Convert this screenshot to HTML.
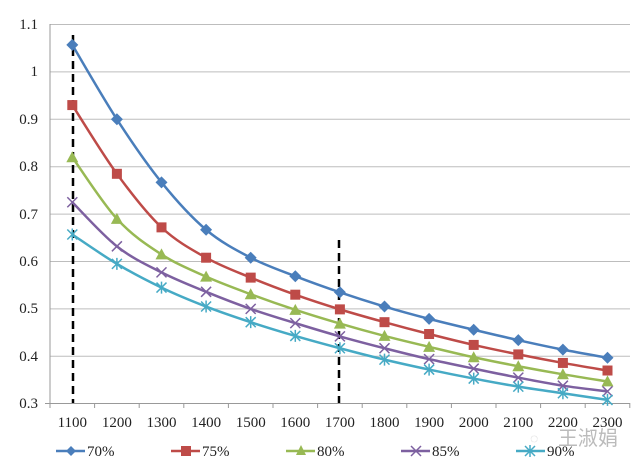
<!DOCTYPE html>
<html><head><meta charset="utf-8"><style>
html,body{margin:0;padding:0;background:#fff;}
svg{display:block;font-family:"Liberation Serif","Noto Serif CJK SC",serif;}
</style></head><body>
<svg id="s" width="640" height="471" viewBox="0 0 640 471" xmlns="http://www.w3.org/2000/svg">
<g stroke="#bdbdbd" stroke-width="1">
<line x1="50" y1="24.5" x2="630" y2="24.5"/>
<line x1="50" y1="71.9" x2="630" y2="71.9"/>
<line x1="50" y1="119.3" x2="630" y2="119.3"/>
<line x1="50" y1="166.7" x2="630" y2="166.7"/>
<line x1="50" y1="214.1" x2="630" y2="214.1"/>
<line x1="50" y1="261.5" x2="630" y2="261.5"/>
<line x1="50" y1="308.9" x2="630" y2="308.9"/>
<line x1="50" y1="356.3" x2="630" y2="356.3"/>
</g>
<g stroke="#999" stroke-width="1">
<line x1="50" y1="24" x2="50" y2="404"/>
<line x1="45" y1="403.5" x2="630" y2="403.5"/>
</g>
<g id="ticks" stroke="#999"></g>
<g font-size="15" fill="#222" text-anchor="end">
<text x="38" y="29">1.1</text><text x="38" y="76">1</text><text x="38" y="124">0.9</text>
<text x="38" y="171">0.8</text><text x="38" y="219">0.7</text><text x="38" y="266">0.6</text>
<text x="38" y="313">0.5</text><text x="38" y="361">0.4</text><text x="38" y="408">0.3</text>
</g>
<g font-size="15" fill="#222" text-anchor="middle">
<text x="72.3" y="427">1100</text><text x="116.9" y="427">1200</text><text x="161.5" y="427">1300</text>
<text x="206.1" y="427">1400</text><text x="250.7" y="427">1500</text><text x="295.3" y="427">1600</text>
<text x="339.9" y="427">1700</text><text x="384.5" y="427">1800</text><text x="429.1" y="427">1900</text>
<text x="473.7" y="427">2000</text><text x="518.3" y="427">2100</text><text x="562.9" y="427">2200</text>
<text x="607.5" y="427">2300</text>
</g>
<g stroke="#000" stroke-width="2.5" stroke-dasharray="8,5">
<line x1="73" y1="35" x2="73" y2="403"/>
<line x1="339" y1="240" x2="339" y2="403"/>
</g>
<g id="series"></g>
<g font-size="15" fill="#222">
<line x1="56" y1="451" x2="85" y2="451" stroke="#4a7ebb" stroke-width="2.5"/><path d="M71 446 L76 451 L71 456 L66 451Z" fill="#4a7ebb"/><text x="87" y="456">70%</text>
<line x1="171" y1="451" x2="200" y2="451" stroke="#be4b48" stroke-width="2.5"/><rect x="181" y="446" width="10" height="10" fill="#be4b48"/><text x="202" y="456">75%</text>
<line x1="286" y1="451" x2="315" y2="451" stroke="#98b954" stroke-width="2.5"/><path d="M301 445 L306 455 L296 455Z" fill="#98b954"/><text x="317" y="456">80%</text>
<line x1="401" y1="451" x2="430" y2="451" stroke="#7d60a0" stroke-width="2.5"/><path d="M411 446 L421 456 M421 446 L411 456" stroke="#7d60a0" stroke-width="1.5"/><text x="432" y="456">85%</text>
<line x1="516" y1="451" x2="545" y2="451" stroke="#46aac5" stroke-width="2.5"/><path d="M525 446 L535 456 M535 446 L525 456 M530 445 L530 457" stroke="#46aac5" stroke-width="1.5"/><text x="547" y="456">90%</text>
</g>
<text x="558" y="445" font-size="20" fill="#bbb" font-family="'Liberation Sans','Noto Sans CJK SC',sans-serif">王淑娟</text>
<text x="530" y="443" font-size="14" fill="#ccc">◌</text>
</svg>
<script>
var NS="http://www.w3.org/2000/svg";
function X(i){return 72.3+i*44.6}
function Y(v){return 24.5+(1.1-v)*474}
var t=document.getElementById("ticks");
for(var i=0;i<=13;i++){var l=document.createElementNS(NS,"line");var x=50+i*44.6;l.setAttribute("x1",x);l.setAttribute("x2",x);l.setAttribute("y1",403);l.setAttribute("y2",408);t.appendChild(l);}
var D=[
["#4a7ebb","d",[1.057,0.90,0.767,0.667,0.608,0.569,0.535,0.505,0.479,0.456,0.434,0.414,0.397]],
["#be4b48","s",[0.93,0.785,0.672,0.608,0.566,0.530,0.499,0.472,0.447,0.424,0.404,0.386,0.370]],
["#98b954","t",[0.82,0.69,0.615,0.568,0.531,0.498,0.469,0.443,0.420,0.398,0.379,0.362,0.347]],
["#7d60a0","x",[0.725,0.632,0.577,0.536,0.500,0.470,0.442,0.417,0.394,0.374,0.355,0.338,0.326]],
["#46aac5","a",[0.657,0.595,0.545,0.505,0.472,0.443,0.417,0.393,0.372,0.353,0.336,0.322,0.308]]];
var g=document.getElementById("series");
D.forEach(function(s){
 var P=s[2].map(function(v,i){return [X(i),Y(v)]});
 var d="M"+P[0][0]+" "+P[0][1];
 for(var i=0;i<P.length-1;i++){
  var p0=P[Math.max(0,i-1)],p1=P[i],p2=P[i+1],p3=P[Math.min(P.length-1,i+2)],k=1/6;
  d+="C"+(p1[0]+(p2[0]-p0[0])*k)+" "+(p1[1]+(p2[1]-p0[1])*k)+" "+(p2[0]-(p3[0]-p1[0])*k)+" "+(p2[1]-(p3[1]-p1[1])*k)+" "+p2[0]+" "+p2[1];
 }
 var p=document.createElementNS(NS,"path");p.setAttribute("d",d);p.setAttribute("fill","none");p.setAttribute("stroke",s[0]);p.setAttribute("stroke-width","2.5");g.appendChild(p);
 s[2].forEach(function(v,i){var x=X(i),y=Y(v),e=document.createElementNS(NS,"path"),d;
  if(s[1]=="d")d="M"+x+" "+(y-6)+"L"+(x+6)+" "+y+"L"+x+" "+(y+6)+"L"+(x-6)+" "+y+"Z";
  else if(s[1]=="s")d="M"+(x-5)+" "+(y-5)+"h10v10h-10Z";
  else if(s[1]=="t")d="M"+x+" "+(y-6)+"L"+(x+6)+" "+(y+5)+"L"+(x-6)+" "+(y+5)+"Z";
  else if(s[1]=="x")d="M"+(x-5)+" "+(y-5)+"L"+(x+5)+" "+(y+5)+"M"+(x+5)+" "+(y-5)+"L"+(x-5)+" "+(y+5);
  else d="M"+(x-5)+" "+(y-5)+"L"+(x+5)+" "+(y+5)+"M"+(x+5)+" "+(y-5)+"L"+(x-5)+" "+(y+5)+"M"+x+" "+(y-6)+"L"+x+" "+(y+6);
  e.setAttribute("d",d);
  if(s[1]=="x"||s[1]=="a"){e.setAttribute("stroke",s[0]);e.setAttribute("stroke-width","1.5");e.setAttribute("fill","none");}
  else e.setAttribute("fill",s[0]);
  g.appendChild(e);});
});
</script>
</body></html>
